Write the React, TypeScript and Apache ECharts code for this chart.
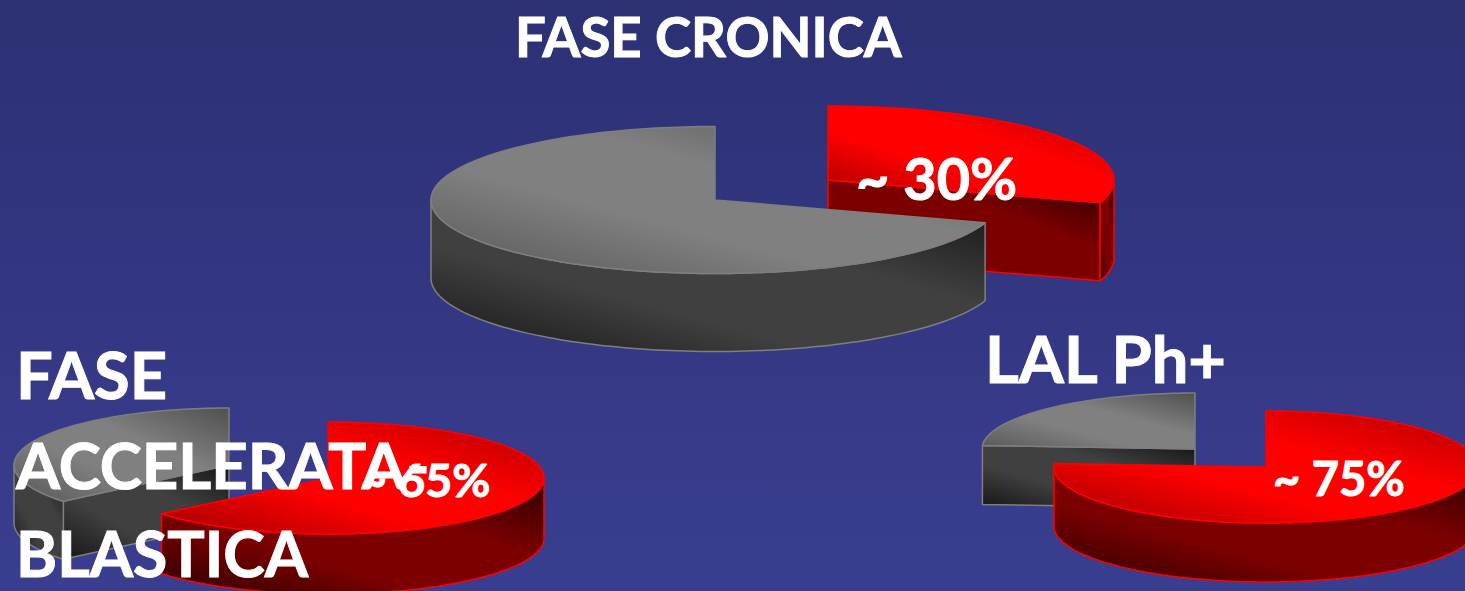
import React, { useEffect, useRef } from "react";
import * as echarts from "echarts";

const WIDTH = 1465;
const HEIGHT = 591;

// Values (percent of each pie)
const sliceNames = ["Ph+", "Ph-"];
const cronicaValues = [30, 70];
const blasticaValues = [64, 36];
const lalValues = [76, 24];

// Texts
const titleCronica = "FASE CRONICA";
const titleBlastica = ["FASE", "ACCELERATA-", "BLASTICA"];
const titleLal = "LAL Ph+";
const labelCronica = "~ 30%";
const labelBlastica = "~ 65%";
const labelLal = "~ 75%";

// Layout of each pie: one placement per slice, as the slices are pulled apart
const cronicaPlace = [
  { cx: 828, cy: 180, rx: 286, ry: 74, depth: 78, z: 1 },
  { cx: 715, cy: 200, rx: 284, ry: 73.5, depth: 78, z: 2 },
];
const blasticaPlace = [
  { cx: 328, cy: 478, rx: 216, ry: 56, depth: 60, z: 2 },
  { cx: 229, cy: 465, rx: 215, ry: 57, depth: 58, z: 1 },
];
const lalPlace = [
  { cx: 1266, cy: 467, rx: 212, ry: 56, depth: 59, z: 2 },
  { cx: 1195, cy: 449, rx: 213, ry: 56, depth: 59, z: 1 },
];

const diag = (stops: [number, string][]) =>
  new echarts.graphic.LinearGradient(
    1,
    0,
    0,
    1,
    stops.map(([offset, color]) => ({ offset, color }))
  );

const sliceStyles = [
  {
    top: () => diag([[0, "#b00000"], [0.38, "#ff0000"], [0.62, "#ff0000"], [1, "#a00000"]]),
    wall: () => diag([[0, "#2c0000"], [0.35, "#7c0000"], [0.65, "#7c0000"], [1, "#2c0000"]]),
    stroke: "#ff0000",
  },
  {
    top: () => diag([[0, "#505050"], [0.38, "#808080"], [0.62, "#808080"], [1, "#585858"]]),
    wall: () => diag([[0, "#161616"], [0.35, "#404040"], [0.65, "#404040"], [1, "#161616"]]),
    stroke: "#7f7f7f",
  },
];

type Place = { cx: number; cy: number; rx: number; ry: number; depth: number; z: number };
const RAD = Math.PI / 180;

const pt = (p: Place, deg: number, drop = 0): number[] => [
  p.cx + p.rx * Math.sin(deg * RAD),
  p.cy - p.ry * Math.cos(deg * RAD) + drop,
];

const arc = (p: Place, from: number, to: number, drop = 0) => {
  const out: number[][] = [];
  const steps = Math.max(2, Math.ceil(Math.abs(to - from) / 1.5));
  for (let i = 0; i <= steps; i++) out.push(pt(p, from + ((to - from) * i) / steps, drop));
  return out;
};

function pieSeries(values: number[], places: Place[]) {
  const total = values.reduce((a, b) => a + b, 0);
  const angles: number[][] = [];
  let run = 0;
  values.forEach((v) => {
    angles.push([(run / total) * 360, ((run + v) / total) * 360]);
    run += v;
  });
  return {
    type: "custom",
    coordinateSystem: "none",
    silent: true,
    clip: false,
    data: values.map((value, i) => ({ name: sliceNames[i], value })),
    renderItem: (params: any) => {
      const i = params.dataIndex;
      const [a0, a1] = angles[i];
      const p = places[i];
      const st = sliceStyles[i];
      const children: any[] = [];
      const face = (points: number[][], fill: any, order: number) =>
        children.push({
          type: "polygon",
          z2: p.z * 10 + order,
          shape: { points },
          style: { fill, stroke: st.stroke, lineWidth: 1.5, lineJoin: "round" },
        });
      const center = [p.cx, p.cy];
      const wallAt = (deg: number, order: number) =>
        face(
          [center, pt(p, deg), pt(p, deg, p.depth), [p.cx, p.cy + p.depth]],
          st.wall(),
          order
        );
      if (Math.sin(a0 * RAD) < -1e-6) wallAt(a0, 0);
      if (Math.sin(a1 * RAD) > 1e-6) wallAt(a1, 0);
      const w0 = Math.max(a0, 90);
      const w1 = Math.min(a1, 270);
      if (w1 > w0) {
        face(
          [...arc(p, w0, w1), ...arc(p, w1, w0, p.depth)],
          st.wall(),
          1
        );
      }
      face([center, ...arc(p, a0, a1)], st.top(), 2);
      return { type: "group", children };
    },
  };
}

const textEl = (text: string, x: number, y: number, fontSize: number) => ({
  type: "text",
  x,
  y,
  z: 100,
  silent: true,
  style: {
    text,
    fill: "#ffffff",
    stroke: "#ffffff",
    lineWidth: 1,
    fontFamily: "Lato",
    fontWeight: 700,
    fontSize,
    textAlign: "left",
    textVerticalAlign: "middle",
  },
});

export default function App() {
  const ref = useRef<HTMLDivElement>(null);
  useEffect(() => {
    document.body.style.margin = "0";
    const chart = echarts.init(ref.current!, undefined, { renderer: "svg" });
    chart.setOption({
      animation: false,
      backgroundColor: new echarts.graphic.LinearGradient(0, 0, 0, 1, [
        { offset: 0, color: "#2c3074" },
        { offset: 1, color: "#3a3e90" },
      ]),
      series: [
        pieSeries(cronicaValues, cronicaPlace),
        pieSeries(blasticaValues, blasticaPlace),
        pieSeries(lalValues, lalPlace),
      ],
      graphic: {
        elements: [
          textEl(titleCronica, 515, 36, 54.5),
          textEl(titleBlastica[0], 16, 374, 65),
          textEl(titleBlastica[1], 16, 464, 63.5),
          textEl(titleBlastica[2], 16, 552, 62.5),
          textEl(titleLal, 985, 358, 65),
          textEl(labelCronica, 856, 177, 57.5),
          textEl(labelBlastica, 360, 479, 46.5),
          textEl(labelLal, 1273, 478, 47),
        ],
      },
    });
    return () => chart.dispose();
  }, []);
  return <div ref={ref} style={{ position: "absolute", left: 0, top: 0, width: WIDTH, height: HEIGHT }} />;
}
